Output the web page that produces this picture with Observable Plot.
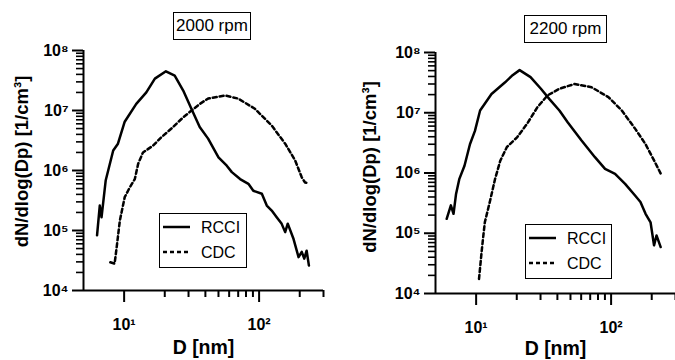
<!DOCTYPE html>
<html><head><meta charset="utf-8">
<script src="https://cdn.jsdelivr.net/npm/d3@7"></script>
<script src="https://cdn.jsdelivr.net/npm/@observablehq/plot@0.6"></script>
<style>
body{margin:0;background:#fff;}
#wrap{position:relative;width:675px;height:360px;overflow:hidden;font-family:"Liberation Sans",Arial,sans-serif;color:#000;}
.panel{position:absolute;top:0;}
.title{position:absolute;border:1px solid #000;background:#fff;font-size:17px;text-align:center;box-sizing:border-box;line-height:26px;}
.legend{position:absolute;}
</style></head>
<body><div id="wrap"></div>
<script>
// ---- data ----
const titles = ["2000 rpm", "2200 rpm"];
const seriesNames = ["RCCI", "CDC"];
const xLabel = "D [nm]";
const yLabel = "dN/dlog(Dp) [1/cm³]";
const xMajor = [10, 100];
const xMinor = [20, 30, 40, 50, 60, 70, 80, 90, 200, 300];
const yMajor = [1e4, 1e5, 1e6, 1e7, 1e8];
const yMinor = [2,3,4,5,6,7,8,9].flatMap(m => [1e4, 1e5, 1e6, 1e7].map(p => m * p));

const rcci2000D = [6.3, 6.6, 6.8, 7.3, 8.3, 9.0, 10.1, 12.3, 14.6, 16.9, 20.4, 23.7, 27.4, 31.5, 36.3, 41.9, 50, 57.6, 62.8, 72.3, 83.3, 90.6, 104.8, 114, 124, 135, 147, 156, 163, 180, 196, 207, 216, 225, 234];
const rcci2000N = [8.3e4, 2.6e5, 1.66e5, 6.8e5, 2.15e6, 2.8e6, 6.5e6, 1.29e7, 2.0e7, 3.4e7, 4.5e7, 3.8e7, 2.15e7, 1.07e7, 5.3e6, 3.4e6, 1.66e6, 1.2e6, 9.4e5, 7.2e5, 6.0e5, 4.6e5, 4.1e5, 2.6e5, 2.15e5, 1.66e5, 1.29e5, 9.4e4, 1.3e5, 7.2e4, 3.6e4, 4.4e4, 3.4e4, 4.6e4, 2.6e4];
const cdc2000D = [7.9, 8.5, 8.8, 9.3, 10.1, 11.0, 12.0, 12.7, 13.8, 16.4, 18.9, 22.4, 27.4, 31.6, 36.4, 41.9, 56, 70, 93, 124, 156, 185, 207, 219, 234];
const cdc2000N = [2.95e4, 2.8e4, 5.2e4, 1.47e5, 3.6e5, 5.2e5, 7.2e5, 1.29e6, 2.0e6, 2.6e6, 3.6e6, 5.0e6, 7.7e6, 1.0e7, 1.29e7, 1.58e7, 1.78e7, 1.58e7, 1.07e7, 5.6e6, 2.8e6, 1.47e6, 7.7e5, 6.3e5, 6.1e5];
const rcci2200D = [6.05, 6.5, 6.8, 7.1, 7.5, 8.2, 9.0, 9.8, 10.7, 13.0, 16.4, 18.4, 21.0, 25.3, 30.2, 34.8, 41.4, 47.8, 60.2, 75.9, 90.2, 107, 127, 151, 165, 180, 196, 208, 217, 233];
const rcci2200N = [1.74e5, 2.9e5, 2.1e5, 4.5e5, 7.9e5, 1.32e6, 3.0e6, 5.0e6, 1.09e7, 2.05e7, 3.2e7, 4.1e7, 5.1e7, 3.9e7, 2.5e7, 1.7e7, 1.09e7, 6.9e6, 3.5e6, 1.83e6, 1.17e6, 9.7e5, 6.6e5, 4.2e5, 3.3e5, 2.1e5, 1.52e5, 6.3e4, 9.2e4, 5.9e4];
const cdc2200D = [10.5, 11.0, 11.3, 11.6, 12.7, 13.8, 15.1, 16.9, 20.1, 23.9, 28.4, 33.8, 41.4, 53.6, 71.6, 95.5, 120, 151, 180, 208, 233];
const cdc2200N = [1.74e4, 5.1e4, 9.0e4, 1.52e5, 3.5e5, 7.9e5, 1.6e6, 2.7e6, 3.9e6, 6.6e6, 1.23e7, 1.94e7, 2.5e7, 3.0e7, 2.65e7, 1.82e7, 1.09e7, 5.4e6, 3.0e6, 1.62e6, 9.8e5];

// ---- drawing ----
const FONT = "Liberation Sans, Arial, sans-serif";
const supDigits = {"0":"⁰","1":"¹","2":"²","3":"³","4":"⁴","5":"⁵","6":"⁶","7":"⁷","8":"⁸","9":"⁹"};
const pow10 = d => "10" + String(Math.round(Math.log10(d))).split("").map(c => supDigits[c]).join("");
const toRows = (D, N) => D.map((d, i) => ({D: d, N: N[i]}));

function panel(cfg) {
  const fw = cfg.width - cfg.ml - cfg.mr;
  const fh = 360 - cfg.mt - cfg.mb;
  const txt = {fontFamily: FONT, fontWeight: "bold", fill: "#000"};
  return Plot.plot({
    width: cfg.width, height: 360,
    marginLeft: cfg.ml, marginRight: cfg.mr, marginTop: cfg.mt, marginBottom: cfg.mb,
    x: {type: "log", domain: [5, 300]},
    y: {type: "log", domain: [1e4, 1e8]},
    marks: [
      // outward tick marks
      Plot.tickY(yMinor, {y: d => d, insetLeft: -7, insetRight: fw, stroke: "#000", strokeWidth: 1.6}),
      Plot.tickY(yMajor, {y: d => d, insetLeft: -11, insetRight: fw, stroke: "#000", strokeWidth: 2}),
      Plot.tickX(xMinor, {x: d => d, insetTop: fh, insetBottom: -7, stroke: "#000", strokeWidth: 2}),
      Plot.tickX(xMajor, {x: d => d, insetTop: fh, insetBottom: -12, stroke: "#000", strokeWidth: 2}),
      // tick labels
      Plot.axisY(yMajor, {tickSize: 0, tickPadding: 15, tickFormat: pow10, label: null, fontSize: 16, ...txt}),
      Plot.axisX(xMajor, {tickSize: 0, tickPadding: 28, tickFormat: pow10, label: null, fontSize: 16, ...txt}),
      // axis lines
      Plot.ruleX([5], {stroke: "#000", strokeWidth: 2}),
      Plot.ruleY([1e4], {stroke: "#000", strokeWidth: 2}),
      // series
      Plot.line(toRows(cfg.cD, cfg.cN), {x: "D", y: "N", stroke: "#000", strokeWidth: 2.5, strokeDasharray: "4,3"}),
      Plot.line(toRows(cfg.rD, cfg.rN), {x: "D", y: "N", stroke: "#000", strokeWidth: 2.5}),
      // axis titles
      Plot.text([yLabel], {frameAnchor: "left", textAnchor: "middle", lineAnchor: "middle", rotate: -90, dx: cfg.ydx, dy: cfg.ydy, fontSize: 18.5, ...txt}),
      Plot.text([xLabel], {frameAnchor: "bottom", textAnchor: "middle", lineAnchor: "middle", dy: cfg.xdy, fontSize: 19.5, ...txt})
    ]
  });
}

const wrap = document.getElementById("wrap");
const panels = [
  {left: 0, width: 337, ml: 83, mr: 14, mt: 50, mb: 70, ydx: -61, ydy: -9, xdy: 57,
   rD: rcci2000D, rN: rcci2000N, cD: cdc2000D, cN: cdc2000N,
   title: {x: 173, y: 12, w: 78, h: 28}, legend: {x: 159, y: 213, w: 88, h: 55}},
  {left: 337, width: 338, ml: 98, mr: 0, mt: 52, mb: 67, ydx: -65, ydy: -6, xdy: 55,
   rD: rcci2200D, rN: rcci2200N, cD: cdc2200D, cN: cdc2200N,
   title: {x: 524, y: 15, w: 83, h: 28}, legend: {x: 525, y: 224, w: 87, h: 55}}
];
panels.forEach((p, i) => {
  const div = document.createElement("div");
  div.className = "panel";
  div.style.left = p.left + "px";
  div.appendChild(panel(p));
  wrap.appendChild(div);

  const t = document.createElement("div");
  t.className = "title";
  Object.assign(t.style, {left: p.title.x + "px", top: p.title.y + "px", width: p.title.w + "px", height: p.title.h + "px"});
  t.textContent = titles[i];
  wrap.appendChild(t);

  const L = p.legend;
  const lg = d3.select(wrap).append("svg").attr("class", "legend")
    .attr("width", L.w).attr("height", L.h)
    .style("left", L.x + "px").style("top", L.y + "px");
  lg.append("rect").attr("x", 0.5).attr("y", 0.5).attr("width", L.w - 1).attr("height", L.h - 1)
    .attr("fill", "#fff").attr("stroke", "#000");
  seriesNames.forEach((name, j) => {
    const yy = 14 + j * 25;
    lg.append("line").attr("x1", 4).attr("x2", 31).attr("y1", yy).attr("y2", yy)
      .attr("stroke", "#000").attr("stroke-width", 2.5)
      .attr("stroke-dasharray", j === 1 ? "4,3" : null);
    lg.append("text").attr("x", 42).attr("y", yy).attr("dy", "0.35em")
      .attr("font-family", FONT).attr("font-size", 16)
      .text(name);
  });
});
</script>
</body></html>
